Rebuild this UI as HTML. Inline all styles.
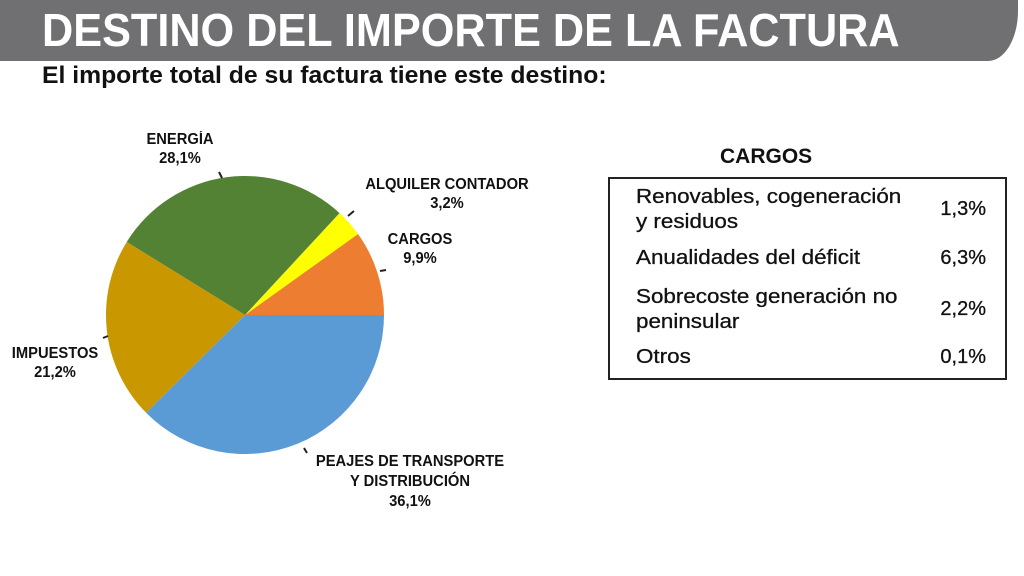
<!DOCTYPE html>
<html><head><meta charset="utf-8"><style>
body{margin:0;width:1024px;height:576px;background:#fff;overflow:hidden;position:relative;font-family:"Liberation Sans",sans-serif}
.hdr{position:absolute;left:0;top:0;width:1018px;height:61px;background:#707072;border-bottom-right-radius:30px 50px}
.t{position:absolute;white-space:nowrap;transform-origin:0 0}
.lbl{position:absolute;width:240px;font-size:15.5px;font-weight:bold;color:#111;text-align:center;line-height:19px;white-space:nowrap;transform:scaleX(0.95)}
.row{position:absolute;font-size:20px;color:#111;line-height:25px;white-space:nowrap;transform-origin:0 0;transform:scaleX(1.12);-webkit-text-stroke:0.3px #111}
.pc{position:absolute;font-size:20px;color:#111;line-height:25px;white-space:nowrap;width:60px;text-align:right;left:926px;-webkit-text-stroke:0.3px #111}
</style></head><body>
<div class="hdr"></div>
<div class="t" style="left:42px;top:3px;font-size:46px;font-weight:bold;color:#fff;transform:scaleX(0.94)">DESTINO DEL IMPORTE DE LA FACTURA</div>
<div class="t" style="left:42px;top:62px;font-size:24px;font-weight:bold;color:#111;transform:scaleX(1.03)">El importe total de su factura tiene este destino:</div>
<svg style="position:absolute;left:0;top:0" width="1024" height="576">
<path d="M245,315 L384,315 A139,139 0 0 0 358,234 Z" fill="#ED7D31"/>
<path d="M245,315 L358,234 A139,139 0 0 0 339.5,213.1 Z" fill="#FFFF00"/>
<path d="M245,315 L339.5,213.1 A139,139 0 0 0 126.7,242 Z" fill="#548235"/>
<path d="M245,315 L126.7,242 A139,139 0 0 0 146.1,412.7 Z" fill="#C99700"/>
<path d="M245,315 L146.1,412.7 A139,139 0 0 0 384,315 Z" fill="#5B9BD5"/>
<g stroke="#222" stroke-width="2">
<line x1="219" y1="172" x2="222" y2="178"/>
<line x1="348" y1="216" x2="354" y2="211"/>
<line x1="380" y1="271" x2="386" y2="270"/>
<line x1="103" y1="338" x2="108" y2="336"/>
<line x1="304" y1="448" x2="307" y2="453"/>
</g>
<rect x="609" y="178" width="397" height="201" fill="none" stroke="#222" stroke-width="2"/>
</svg>
<div class="lbl" style="left:60px;top:130px">ENERGÍA<br>28,1%</div>
<div class="lbl" style="left:327px;top:175px">ALQUILER CONTADOR<br>3,2%</div>
<div class="lbl" style="left:300px;top:230px">CARGOS<br>9,9%</div>
<div class="lbl" style="left:-65px;top:344px">IMPUESTOS<br>21,2%</div>
<div class="lbl" style="left:290px;top:452px;line-height:20px">PEAJES DE TRANSPORTE<br>Y DISTRIBUCIÓN<br>36,1%</div>
<div class="t" style="left:720px;top:145px;font-size:21px;font-weight:bold;color:#111">CARGOS</div>
<div class="row" style="left:636px;top:185px">Renovables, cogeneración<br>y residuos</div>
<div class="pc" style="top:197px">1,3%</div>
<div class="row" style="left:636px;top:246px">Anualidades del déficit</div>
<div class="pc" style="top:246px">6,3%</div>
<div class="row" style="left:636px;top:285px">Sobrecoste generación no<br>peninsular</div>
<div class="pc" style="top:297px">2,2%</div>
<div class="row" style="left:636px;top:345px">Otros</div>
<div class="pc" style="top:345px">0,1%</div>
</body></html>
